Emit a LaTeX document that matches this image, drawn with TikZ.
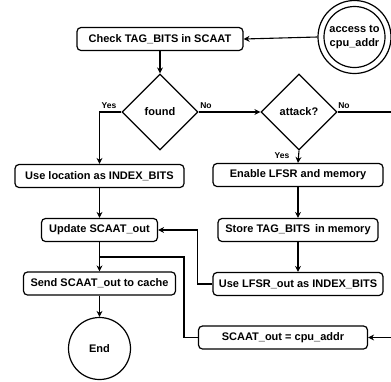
\documentclass[tikz,border=0pt]{standalone}
\usepackage{fontspec}
\setmainfont{Liberation Sans}
\usetikzlibrary{arrows.meta,shapes.geometric}
\begin{document}
\begin{tikzpicture}[x=1pt,y=-1pt,
  every node/.style={font=\fontsize{11}{13}\selectfont\bfseries},
  procbox/.style={draw,rounded corners=4pt,line width=1.2pt,minimum height=23pt,inner sep=0pt},
  decide/.style={draw,diamond,line width=1.2pt,minimum width=76pt,minimum height=76pt,inner sep=0pt,aspect=1},
  termcirc/.style={draw,circle,line width=1.2pt,inner sep=0pt},
  lbl/.style={font=\fontsize{8.5}{10}\selectfont\bfseries,inner sep=0pt},
  conn/.style={line width=1.1pt,-{Stealth[length=6pt,width=6pt,inset=2pt]}},
  plain/.style={line width=1.1pt}]
\useasboundingbox (0,0) rectangle (391,381);

% nodes
\node[procbox,minimum width=166pt] (check) at (160,39) {Check TAG\_BITS in SCAAT};
\node[termcirc,minimum size=73pt] (access) at (354.5,37) {};
\node[termcirc,minimum size=61pt,align=center,font=\fontsize{11}{14}\selectfont\bfseries] (accessin) at (354.5,37) {access to\\cpu\_addr};
\node[decide] (found) at (160,112) {found};
\node[decide] (attack) at (299,112) {attack?};
\node[procbox,minimum width=169pt] (useloc) at (99.5,176) {Use location as INDEX\_BITS};
\node[procbox,minimum width=170pt] (enable) at (298,175) {Enable LFSR and memory};
\node[procbox,minimum width=116pt] (update) at (99.5,230) {Update SCAAT\_out};
\node[procbox,minimum width=160pt] (store) at (298,230) {Store TAG\_BITS\, in memory};
\node[procbox,minimum width=152pt] (send) at (99.5,283.5) {Send SCAAT\_out to cache};
\node[procbox,minimum width=170pt] (uselfsr) at (298,284) {Use LFSR\_out as INDEX\_BITS};
\node[procbox,minimum width=169pt] (cpuaddr) at (283,337.5) {SCAAT\_out = cpu\_addr};
\node[termcirc,minimum size=62pt] (endn) at (99.5,348.5) {End};

% helper coordinates
\coordinate (rightedge) at (393,112);
\coordinate (rightlow) at (393,337.5);
\coordinate (mergept) at (184,257);

% connectors
\draw[conn] (access.west) -- (check.east);
\draw[conn] (check.south) -- (found.north);
\draw[conn] (found.west) -| (useloc.north);
\draw[conn] (found.east) -- (attack.west);
\draw[conn] (attack.east) -- (rightedge) -- (rightlow) -- (cpuaddr.east);
\draw[conn] (attack.south) -- (enable.north);
\draw[conn] (enable.south) -- (store.north);
\draw[conn] (store.south) -- (uselfsr.north);
\draw[conn] (uselfsr.west) -- ++(-15,0) |- (update.east);
\draw[conn] (useloc.south) -- (update.north);
\draw[conn] (update.south) -- (send.north);
\draw[plain] (cpuaddr.west) -| (mergept) -- (99.5,257);
\draw[conn] (send.south) -- (endn.north);

% labels
\node[lbl] (yes1) at (109,105.5) {Yes};
\node[lbl] (no1) at (206,105.5) {No};
\node[lbl] (no2) at (344,105.5) {No};
\node[lbl] (yes2) at (282,156) {Yes};
\end{tikzpicture}
\end{document}
